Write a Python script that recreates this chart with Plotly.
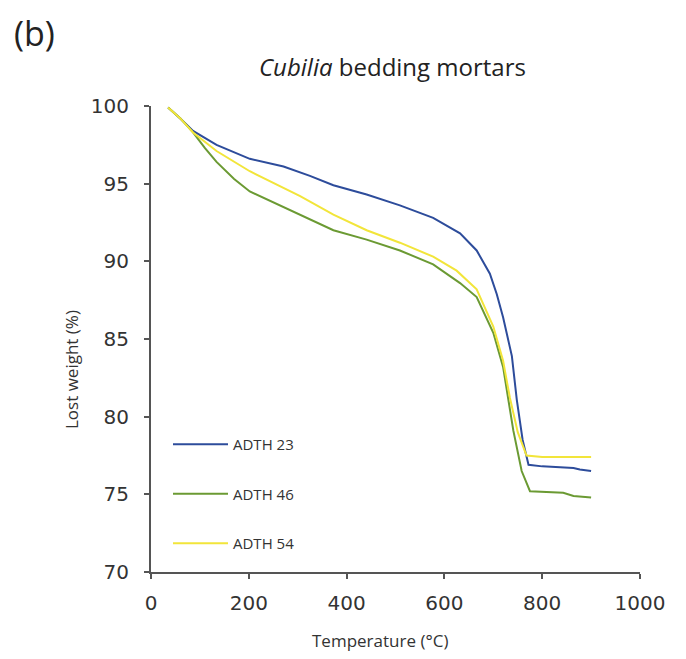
import plotly.graph_objects as go

# ---- data ----
series_names = ["ADTH 23", "ADTH 46", "ADTH 54"]

temp_23 = [35, 60, 86, 134, 202, 271, 325, 373, 441, 509, 577, 632, 666, 693, 707, 720, 738, 748, 760, 772, 800, 864, 877, 900]
weight_23 = [99.9, 99.2, 98.4, 97.5, 96.6, 96.1, 95.5, 94.9, 94.3, 93.6, 92.8, 91.8, 90.7, 89.2, 87.9, 86.4, 83.9, 81.1, 78.5, 76.9, 76.8, 76.7, 76.6, 76.5]

temp_46 = [35, 60, 86, 110, 134, 170, 202, 271, 305, 373, 441, 509, 577, 632, 666, 700, 720, 741, 758, 775, 843, 864, 900]
weight_46 = [99.9, 99.2, 98.3, 97.3, 96.4, 95.3, 94.5, 93.5, 93.0, 92.0, 91.4, 90.7, 89.8, 88.6, 87.7, 85.4, 83.2, 79.1, 76.5, 75.2, 75.1, 74.9, 74.8]

temp_54 = [35, 60, 86, 134, 202, 271, 305, 373, 441, 509, 577, 625, 666, 700, 720, 734, 750, 768, 800, 900]
weight_54 = [99.9, 99.2, 98.3, 97.1, 95.8, 94.7, 94.2, 93.0, 92.0, 91.2, 90.3, 89.4, 88.2, 85.8, 83.6, 81.2, 79.0, 77.5, 77.4, 77.4]

x_ticks = [0, 200, 400, 600, 800, 1000]
y_ticks = [70, 75, 80, 85, 90, 95, 100]

colors = ["#2D4C9B", "#6B9A33", "#F2E53A"]

W, H = 686, 659
ML, MR, MT, MB = 151, 46, 106, 87
PW, PH = W - ML - MR, H - MT - MB

def px_x(p):
    return (p - ML) / PW

def px_y(p):
    return (H - MB - p) / PH

fig = go.Figure()
for i, (t, w) in enumerate([(temp_23, weight_23), (temp_46, weight_46), (temp_54, weight_54)]):
    fig.add_trace(go.Scatter(
        x=t, y=w, mode="lines", name=series_names[i],
        line=dict(color=colors[i], width=2),
        legendgroup=series_names[i],
    ))

axis_col = "#555555"
txt_col = "#333333"
fig.update_layout(
    width=W, height=H,
    margin=dict(l=ML, r=MR, t=MT, b=MB),
    paper_bgcolor="white", plot_bgcolor="white",
    showlegend=True,
    legend=dict(
        x=px_x(168), y=px_y(428), xanchor="left", yanchor="top",
        traceorder="grouped", tracegroupgap=27, itemwidth=55,
        font=dict(family="Open Sans", size=15, color=txt_col),
        bgcolor="rgba(0,0,0,0)",
    ),
    xaxis=dict(
        range=[0, 1000], tickvals=x_ticks, showgrid=False, zeroline=False,
        showline=True, linecolor=axis_col, linewidth=2,
        ticks="outside", ticklen=5, tickcolor=axis_col, tickwidth=2,
        ticklabelstandoff=7,
        tickfont=dict(family="DejaVu Sans", size=20, color=txt_col),
    ),
    yaxis=dict(
        range=[70, 100], tickvals=y_ticks, showgrid=False, zeroline=False,
        showline=True, linecolor=axis_col, linewidth=2,
        ticks="outside", ticklen=5, tickcolor=axis_col, tickwidth=2,
        ticklabelstandoff=11,
        tickfont=dict(family="DejaVu Sans", size=20, color=txt_col),
    ),
    annotations=[
        dict(text="<i>Cubilia</i> bedding mortars", xref="paper", yref="paper",
             x=px_x(392), y=px_y(66), xanchor="center", yanchor="middle", showarrow=False,
             font=dict(family="Open Sans", size=24, color="#222222")),
        dict(text="(b)", xref="paper", yref="paper",
             x=px_x(12), y=px_y(33), xanchor="left", yanchor="middle", showarrow=False,
             font=dict(family="Open Sans", size=34, color="#222222")),
        dict(text="Lost weight (%)", xref="paper", yref="paper", textangle=-90,
             x=px_x(71), y=px_y(370), xanchor="center", yanchor="middle", showarrow=False,
             font=dict(family="Open Sans", size=17, color=txt_col)),
        dict(text="Temperature (°C)", xref="paper", yref="paper",
             x=px_x(380), y=px_y(640), xanchor="center", yanchor="middle", showarrow=False,
             font=dict(family="Open Sans", size=17, color=txt_col)),
    ],
)

fig.write_html("out.html")
